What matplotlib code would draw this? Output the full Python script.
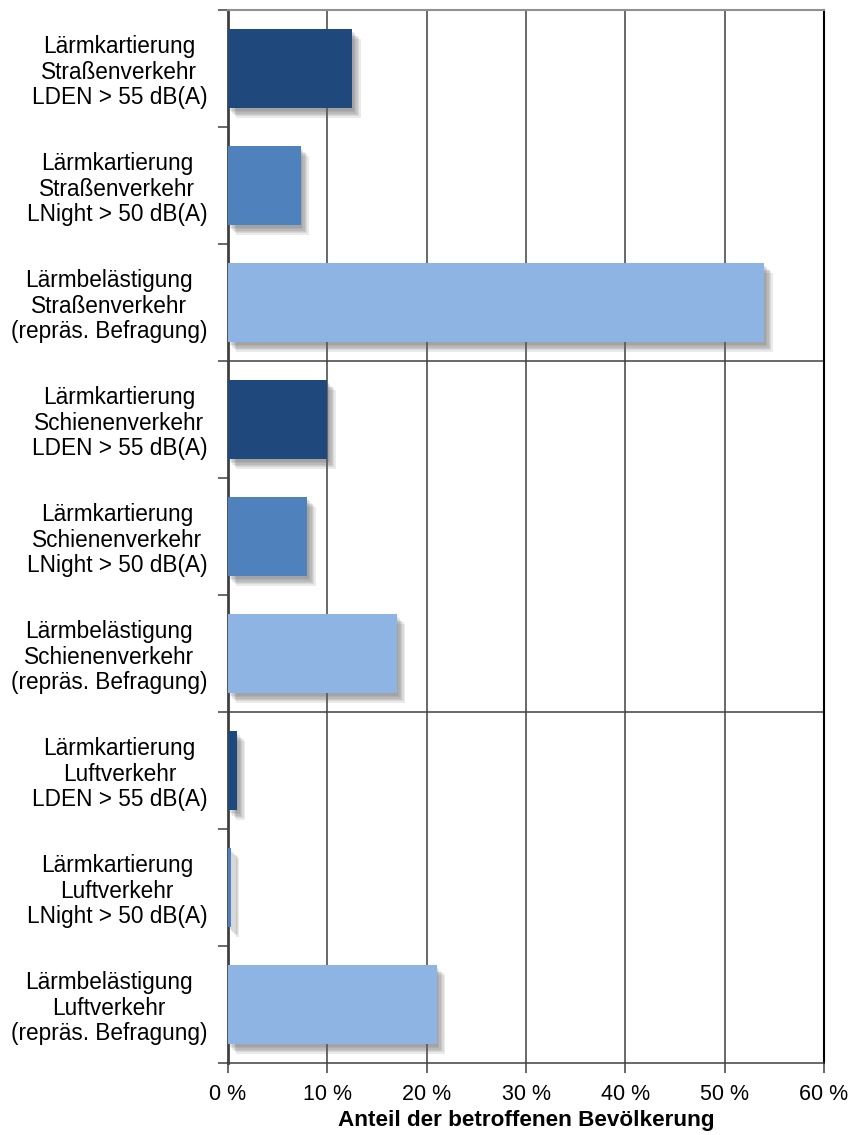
import matplotlib
matplotlib.use("Agg")
import matplotlib.pyplot as plt
import matplotlib.patheffects as pe
import numpy as np

# Anteil der betroffenen Bevoelkerung in Prozent
labels = [
    "Lärmkartierung\nStraßenverkehr\nLDEN > 55 dB(A)",
    "Lärmkartierung\nStraßenverkehr\nLNight > 50 dB(A)",
    "Lärmbelästigung\nStraßenverkehr\n(repräs. Befragung)",
    "Lärmkartierung\nSchienenverkehr\nLDEN > 55 dB(A)",
    "Lärmkartierung\nSchienenverkehr\nLNight > 50 dB(A)",
    "Lärmbelästigung\nSchienenverkehr\n(repräs. Befragung)",
    "Lärmkartierung\nLuftverkehr\nLDEN > 55 dB(A)",
    "Lärmkartierung\nLuftverkehr\nLNight > 50 dB(A)",
    "Lärmbelästigung\nLuftverkehr\n(repräs. Befragung)",
]
values = [12.5, 7.3, 54.0, 10.0, 8.0, 17.0, 0.9, 0.3, 21.0]
kind = [0, 1, 2, 0, 1, 2, 0, 1, 2]  # LDEN, LNight, Befragung
colors = ["#1F497D", "#4F81BD", "#8EB4E3"]
xticks = [0, 10, 20, 30, 40, 50, 60]

plt.rcParams["font.family"] = ["Liberation Sans", "DejaVu Sans"]
plt.rcParams["font.size"] = 16

fig = plt.figure(figsize=(8.5, 11.35), dpi=100)
ax = fig.add_axes([228/850, 1 - 1063/1135, (824 - 228)/850, (1063 - 10)/1135])

# soft shadow: a few stacked offset copies with low alpha
shadow = [pe.SimplePatchShadow(offset=(o, -o - 1), shadow_rgbFace="#606060", alpha=0.13)
          for o in (1, 2, 3, 4, 5, 6)]

y = np.arange(len(values))
for i, v in enumerate(values):
    ax.barh(y[i], v, height=0.675, color=colors[kind[i]], zorder=3,
            path_effects=shadow + [pe.Normal()])

ax.set_xlim(0, 60)
ax.set_ylim(len(values) - 0.5, -0.5)

# vertical grid
for xt in xticks[1:-1]:
    ax.axvline(xt, color="#404040", lw=1.1, zorder=1)
# group separators
for sep in [2.5, 5.5]:
    ax.axhline(sep, color="#404040", lw=1.1, zorder=1)

ax.set_xticks(xticks)
ax.set_xticklabels([f"{t} %" for t in xticks], fontsize=15.5)
ax.tick_params(axis="x", direction="out", length=7, width=1.1, color="#404040", pad=8)

ax.set_yticks(np.arange(len(values) + 1) - 0.5)
ax.set_yticklabels([])
ax.set_yticks(y, minor=True)
ax.set_yticklabels(labels, minor=True, fontsize=16.3, linespacing=1.12)
ax.tick_params(axis="y", which="major", direction="out", length=7, width=1.1, color="#404040")
ax.tick_params(axis="y", which="minor", length=0, pad=15)
for t in ax.get_yticklabels(minor=True):
    t.set_multialignment("center")

ax.spines["left"].set_color("#404040")
ax.spines["left"].set_linewidth(2)
ax.spines["bottom"].set_color("#404040")
ax.spines["bottom"].set_linewidth(1.1)
ax.spines["top"].set_color("#909090")
ax.spines["top"].set_linewidth(1.5)
ax.spines["right"].set_color("black")
ax.spines["right"].set_linewidth(1.5)

ax.set_xlabel("Anteil der betroffenen Bevölkerung", fontweight="bold", fontsize=16.2, labelpad=4)

fig.savefig("out.png", dpi=100)
